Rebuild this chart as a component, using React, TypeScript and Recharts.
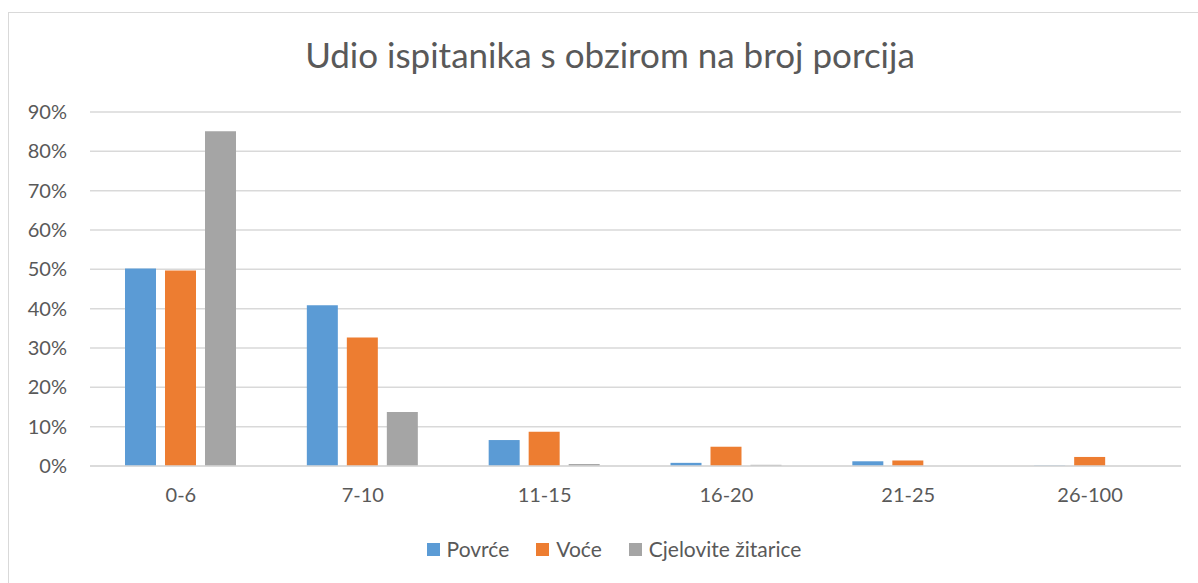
import { BarChart, Bar, XAxis, YAxis, CartesianGrid } from 'recharts';

const categories = ['0-6', '7-10', '11-15', '16-20', '21-25', '26-100'];
const povrce = [50.2, 40.9, 6.6, 0.8, 1.2, 0.1];
const voce = [49.7, 32.7, 8.7, 4.9, 1.4, 2.3];
const zitarice = [85.1, 13.7, 0.5, 0.3, 0, 0];
const yTicks = [0, 10, 20, 30, 40, 50, 60, 70, 80, 90];

const series = [
  { key: 'povrce', name: 'Povrće', color: '#5B9BD5' },
  { key: 'voce', name: 'Voće', color: '#ED7D31' },
  { key: 'zitarice', name: 'Cjelovite žitarice', color: '#A5A5A5' },
];

const data = categories.map((c, i) => ({
  name: c,
  povrce: povrce[i],
  voce: voce[i],
  zitarice: zitarice[i],
}));

const FONT = 'Lato, "Open Sans", sans-serif';
const TEXT = '#595959';

function LegendRow() {
  return (
    <div style={{ display: 'flex', justifyContent: 'center', gap: 27, fontSize: 21, color: TEXT, fontFamily: FONT, lineHeight: '24px' }}>
      {series.map((s) => (
        <div key={s.key} style={{ display: 'flex', alignItems: 'center' }}>
          <span style={{ display: 'inline-block', width: 13, height: 13, background: s.color, marginRight: 7 }} />
          <span>{s.name}</span>
        </div>
      ))}
    </div>
  );
}

export default function App() {
  return (
    <div style={{ position: 'absolute', left: 0, top: 0, width: 1198, height: 583, overflow: 'hidden', background: '#fff', fontFamily: FONT }}>
      <div style={{ position: 'absolute', left: 8, top: 12, width: 1300, height: 700, border: '1.5px solid #D9D9D9', boxSizing: 'border-box' }} />
      <div style={{ position: 'absolute', left: 0, top: 34, width: 1220, textAlign: 'center', fontSize: 35, color: TEXT, lineHeight: '40px' }}>
        Udio ispitanika s obzirom na broj porcija
      </div>
      <div style={{ position: 'absolute', left: 0, top: 0 }}>
        <BarChart
          width={1198}
          height={583}
          data={data}
          margin={{ top: 112, right: 17, bottom: 87, left: 30 }}
          barCategoryGap={35}
          barGap={9}
        >
          <CartesianGrid vertical={false} stroke="#D9D9D9" strokeWidth={1.5} />
          <XAxis
            dataKey="name"
            height={30}
            tick={{ fontSize: 20, fill: TEXT, fontFamily: FONT }}
            axisLine={{ stroke: '#D9D9D9', strokeWidth: 1.5 }}
            tickLine={false}
            tickMargin={16}
          />
          <YAxis
            width={60}
            domain={[0, 90]}
            ticks={yTicks}
            interval={0}
            tick={{ fontSize: 20, fill: TEXT, fontFamily: FONT }}
            tickFormatter={(v) => `${v}%`}
            axisLine={false}
            tickLine={false}
            tickSize={0}
            tickMargin={23}
          />
          {series.map((s) => (
            <Bar key={s.key} dataKey={s.key} name={s.name} fill={s.color} isAnimationActive={false} />
          ))}
        </BarChart>
      </div>
      <div style={{ position: 'absolute', left: 0, top: 537, width: 1228 }}>
        <LegendRow />
      </div>
    </div>
  );
}
